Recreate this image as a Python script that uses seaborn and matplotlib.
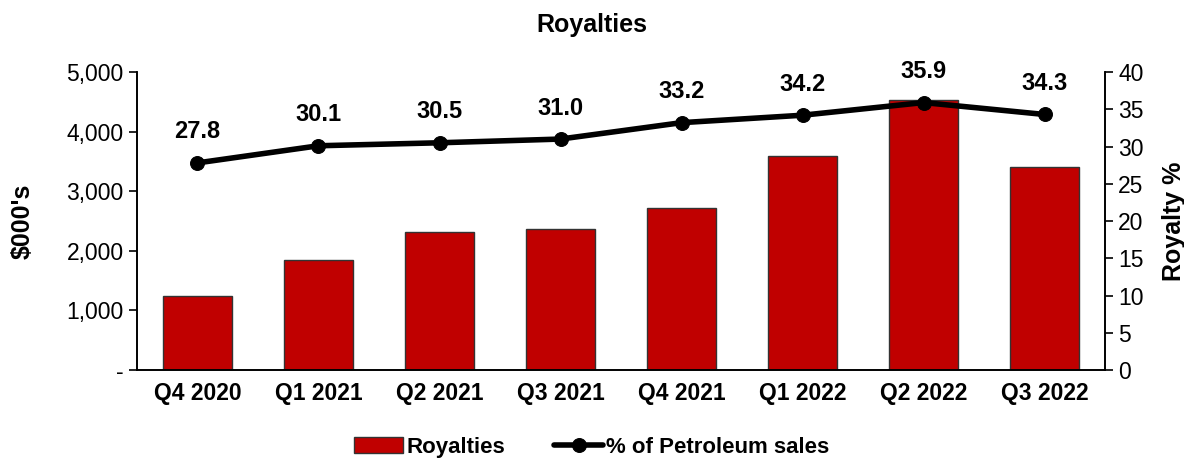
import numpy as np
import pandas as pd
import matplotlib
matplotlib.use("Agg")
import matplotlib.pyplot as plt
import seaborn as sns
from matplotlib.ticker import FuncFormatter, FixedLocator, NullFormatter

# datos
quarters = ["Q4 2020", "Q1 2021", "Q2 2021", "Q3 2021", "Q4 2021", "Q1 2022", "Q2 2022", "Q3 2022"]
royalties = [1240, 1850, 2315, 2370, 2720, 3590, 4530, 3410]
pct_petroleum = [27.8, 30.1, 30.5, 31.0, 33.2, 34.2, 35.9, 34.3]

df = pd.DataFrame({"quarter": quarters, "royalties": royalties, "pct": pct_petroleum})
df["pos"] = np.arange(len(df))

sns.set_style("white")
plt.rcParams["font.family"] = ["Liberation Sans", "DejaVu Sans"]
for k in ("text.color", "axes.labelcolor", "xtick.color", "ytick.color"):
    plt.rcParams[k] = "black"

fig = plt.figure(figsize=(11.84, 4.61), dpi=100)
ax = fig.add_axes([0.1157, 0.1974, 0.8176, 0.6464])

sns.barplot(data=df, x="quarter", y="royalties", color="#C00000", saturation=1,
            width=0.57, edgecolor="#333333", linewidth=1, ax=ax, label="Royalties")
if ax.get_legend() is not None:
    ax.get_legend().remove()
ax.set_ylim(0, 5000)
ax.set_xlim(-0.5, len(df) - 0.5)
ax.yaxis.set_major_formatter(FuncFormatter(lambda v, p: "-" if v == 0 else f"{v:,.0f}"))
ax.set_yticks(range(0, 5001, 1000))
ax.set_xlabel("")
ax.set_ylabel("$000's", fontsize=18, fontweight="bold")
ax.yaxis.set_label_coords(-0.106, 0.5)

# ticks del eje x entre categorias
ax.xaxis.set_minor_locator(FixedLocator(np.arange(-0.5, len(df), 1)))
ax.xaxis.set_minor_formatter(NullFormatter())
ax.tick_params(axis="x", which="major", length=0, labelsize=16.5, pad=9)
ax.tick_params(axis="x", which="minor", length=6, width=1.2, direction="out", color="black")
ax.tick_params(axis="y", length=6, width=1.2, direction="out", color="black", labelsize=16.5, left=True)
for lab in ax.get_xticklabels():
    lab.set_fontweight("bold")

ax2 = ax.twinx()
sns.lineplot(data=df, x="pos", y="pct", color="black", linewidth=4, marker="o",
             markersize=10, markeredgecolor="black", ax=ax2, label="% of Petroleum sales",
             legend=False)
ax2.set_ylim(0, 40)
ax2.set_yticks(range(0, 41, 5))
ax2.set_ylabel("Royalty %", fontsize=18, fontweight="bold")
ax2.yaxis.set_label_coords(1.059, 0.5)
ax2.tick_params(axis="y", length=6, width=1.2, direction="out", color="black", labelsize=16.5, right=True)
ax2.set_xlim(-0.5, len(df) - 0.5)

for p, v in zip(df["pos"], df["pct"]):
    ax2.annotate(f"{v:.1f}", (p, v), xytext=(0, 14), textcoords="offset points",
                 ha="center", va="bottom", fontsize=17, fontweight="bold")

for a in (ax, ax2):
    a.spines["top"].set_visible(False)
    for s in ("left", "right", "bottom"):
        a.spines[s].set_color("black")
        a.spines[s].set_linewidth(1.2)

fig.text(0.5, 0.946, "Royalties", ha="center", va="center", fontsize=18, fontweight="bold")

h1, l1 = ax.get_legend_handles_labels()
h2, l2 = ax2.get_legend_handles_labels()
fig.legend(h1 + h2, l1 + l2, loc="center", bbox_to_anchor=(0.5, 0.03), ncol=2,
           frameon=False, prop={"weight": "bold", "size": 16}, handlelength=2.2,
           columnspacing=2.2, handletextpad=0.15)

fig.savefig("out.png", dpi=100)
